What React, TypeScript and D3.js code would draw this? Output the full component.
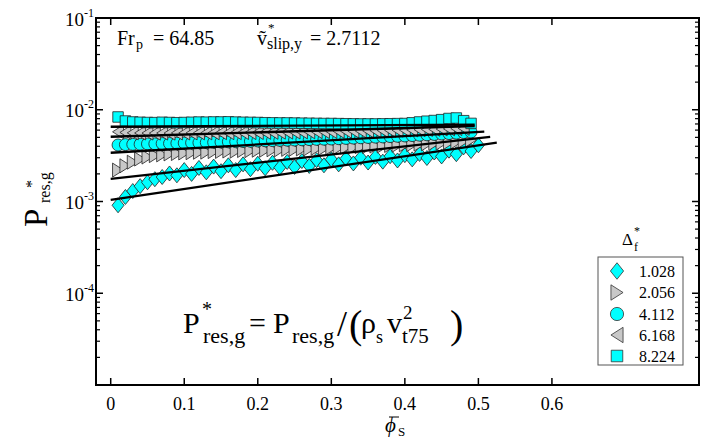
import React from "react";
import * as d3 from "d3";

const phi = [0.01,0.02,0.03,0.04,0.05,0.06,0.07,0.08,0.09,0.10,0.11,0.12,0.13,0.14,0.15,0.16,0.17,0.18,0.19,0.20,0.21,0.22,0.23,0.24,0.25,0.26,0.27,0.28,0.29,0.30,0.31,0.32,0.33,0.34,0.35,0.36,0.37,0.38,0.39,0.40,0.41,0.42,0.43,0.44,0.45,0.46,0.47,0.48,0.49,0.50];

// values in units of 1e-3
const s1028 = [0.91,1.12,1.30,1.47,1.62,1.75,1.85,2.02,1.93,2.20,2.00,2.32,2.08,2.40,2.14,2.48,2.20,2.54,2.25,2.58,2.30,2.64,2.34,2.70,2.38,2.76,2.44,2.82,2.48,2.88,2.54,2.94,2.60,3.00,2.66,3.06,2.72,3.12,2.80,3.20,2.88,3.30,2.98,3.42,3.10,3.58,3.28,3.90,3.55,4.10];
const s2056 = [2.20,2.45,2.68,2.90,3.05,3.16,3.22,3.30,3.33,3.38,3.40,3.44,3.45,3.50,3.51,3.55,3.54,3.59,3.58,3.62,3.62,3.66,3.65,3.70,3.70,3.74,3.75,3.80,3.80,3.85,3.86,3.91,3.91,3.96,3.97,4.02,4.03,4.08,4.10,4.15,4.17,4.22,4.25,4.30,4.34,4.40,4.46,4.55,4.68];
const s4112 = [4.13,4.17,4.20,4.21,4.24,4.25,4.28,4.29,4.32,4.34,4.36,4.37,4.40,4.42,4.45,4.47,4.49,4.51,4.54,4.57,4.59,4.61,4.64,4.66,4.68,4.71,4.73,4.76,4.78,4.80,4.84,4.87,4.91,4.95,4.99,5.03,5.06,5.10,5.14,5.18,5.23,5.28,5.33,5.38,5.44,5.50,5.56,5.64,5.72];
const s6168 = [5.75,5.66,5.60,5.58,5.57,5.56,5.57,5.56,5.58,5.58,5.59,5.60,5.60,5.61,5.62,5.62,5.63,5.64,5.64,5.65,5.67,5.68,5.70,5.71,5.72,5.74,5.75,5.77,5.78,5.80,5.82,5.84,5.86,5.88,5.90,5.92,5.94,5.96,5.99,6.01,6.04,6.07,6.10,6.13,6.17,6.20,6.24,6.28];
const s8224 = [8.34,7.54,7.36,7.30,7.26,7.24,7.30,7.26,7.22,7.26,7.30,7.34,7.32,7.36,7.36,7.38,7.34,7.30,7.28,7.26,7.22,7.20,7.18,7.18,7.16,7.14,7.12,7.10,7.08,7.08,7.06,7.04,7.02,7.00,7.00,7.00,7.02,7.04,7.06,7.08,7.20,7.36,7.50,7.63,7.80,8.03,8.13,7.60,7.10];

const seriesLabels = ["1.028", "2.056", "4.112", "6.168", "8.224"];

// fitted lines (start/end phi and value)
const fitStartPhi = [0, 0, 0, 0, 0];
const fitEndPhi = [0.525, 0.516, 0.508, 0.495, 0.495];
const fitStartVal = [1.04e-3, 1.76e-3, 3.40e-3, 5.08e-3, 6.53e-3];
const fitEndVal = [4.37e-3, 5.05e-3, 5.77e-3, 6.65e-3, 6.9e-3];

const xTickVals = [0, 0.1, 0.2, 0.3, 0.4, 0.5, 0.6];
const yMajorExp = [-5, -4, -3, -2, -1];
const yLabelExp = [-1, -2, -3, -4];

const CYAN = "#00FFFF";
const GRAY = "#C8C8C8";

const L = 96, R = 699, T = 18, B = 385;

const x = d3.scaleLinear().domain([-0.02, 0.8]).range([L, R]);
const y = d3.scaleLog().domain([1e-5, 1e-1]).range([B, T]);

type Shape = "diamond" | "triRight" | "circle" | "triLeft" | "square";
const shapes: Shape[] = ["diamond", "triRight", "circle", "triLeft", "square"];
const fills = [CYAN, GRAY, CYAN, GRAY, CYAN];
const allSeries = [s1028, s2056, s4112, s6168, s8224];

function markerPath(shape: Shape, cx: number, cy: number, k = 1): string {
  if (shape === "diamond") {
    const w = 6 * k, h = 7.5 * k;
    return `M${cx},${cy - h}L${cx + w},${cy}L${cx},${cy + h}L${cx - w},${cy}Z`;
  }
  if (shape === "triRight") {
    const w = 11 * k, h = 14 * k;
    return `M${cx - w / 2},${cy - h / 2}L${cx + w / 2},${cy}L${cx - w / 2},${cy + h / 2}Z`;
  }
  if (shape === "triLeft") {
    const w = 11 * k, h = 14 * k;
    return `M${cx + w / 2},${cy - h / 2}L${cx - w / 2},${cy}L${cx + w / 2},${cy + h / 2}Z`;
  }
  if (shape === "square") {
    const s = 10.5 * k;
    return `M${cx - s / 2},${cy - s / 2}h${s}v${s}h${-s}Z`;
  }
  const r = 6 * k;
  return `M${cx - r},${cy}a${r},${r} 0 1,0 ${2 * r},0a${r},${r} 0 1,0 ${-2 * r},0Z`;
}

function T2(props: any) {
  const { children, style, ...rest } = props;
  return <text {...rest} style={{ fontFamily: "Liberation Serif", ...(style || {}) }}>{children}</text>;
}

export default function App() {
  const minorTicks: number[] = [];
  for (let e = -5; e < -1; e++) for (let k = 2; k <= 9; k++) minorTicks.push(k * Math.pow(10, e));
  const lineGen = d3.line<[number, number]>().x(d => x(d[0])).y(d => y(d[1]));

  const legendY = [271, 292.5, 314, 335, 356];

  return (
    <svg width={716} height={447} style={{ position: "absolute", left: 0, top: 0, background: "#fff" }}>
      <rect x={0} y={0} width={716} height={447} fill="#fff" />
      {allSeries.map((vals, si) => (
        <g key={si} fill={fills[si]} stroke="#222" strokeWidth={0.8}>
          {vals.map((v, i) => (
            <path key={i} d={markerPath(shapes[si], x(phi[i]), y(v * 1e-3))} />
          ))}
        </g>
      ))}
      {fitStartPhi.map((p0, i) => (
        <path key={i} d={lineGen([[p0, fitStartVal[i]], [fitEndPhi[i], fitEndVal[i]]]) || ""} stroke="#000" strokeWidth={2.3} fill="none" />
      ))}
      <rect x={L} y={T} width={R - L} height={B - T} fill="none" stroke="#000" strokeWidth={2} />
      {yMajorExp.map(e => {
        const yy = y(Math.pow(10, e));
        return (
          <g key={e} stroke="#000" strokeWidth={1.5}>
            <line x1={L} x2={L + 7} y1={yy} y2={yy} />
            <line x1={R} x2={R - 7} y1={yy} y2={yy} />
          </g>
        );
      })}
      {minorTicks.map((v, i) => {
        const yy = y(v);
        return (
          <g key={i} stroke="#000" strokeWidth={1.2}>
            <line x1={L} x2={L + 4} y1={yy} y2={yy} />
            <line x1={R} x2={R - 4} y1={yy} y2={yy} />
          </g>
        );
      })}
      {xTickVals.map(v => (
        <g key={v} stroke="#000" strokeWidth={1.5}>
          <line x1={x(v)} x2={x(v)} y1={B} y2={B - 7} />
          <line x1={x(v)} x2={x(v)} y1={T} y2={T + 7} />
        </g>
      ))}
      {xTickVals.map(v => (
        <T2 key={v} x={x(v)} y={410} fontSize={18} textAnchor="middle">{String(v)}</T2>
      ))}
      {yLabelExp.map(e => (
        <T2 key={e} x={94} y={y(Math.pow(10, e)) + 7.5} fontSize={19} textAnchor="end">
          10<tspan dy={-9} fontSize={12}>{"-" + Math.abs(e)}</tspan>
        </T2>
      ))}
      {/* y axis title */}
      <g transform="translate(47,227) rotate(-90)">
        <T2 x={0} y={0} fontSize={33}>P</T2>
        <T2 x={39} y={-10} fontSize={16}>*</T2>
        <T2 x={24} y={3} fontSize={16}>res,g</T2>
      </g>
      {/* x axis title */}
      <T2 x={385} y={432} fontSize={21} fontStyle="italic">ϕ</T2>
      <line x1={389} x2={399} y1={417} y2={417} stroke="#000" strokeWidth={1} />
      <T2 x={398} y={436} fontSize={13}>S</T2>
      {/* annotations */}
      <T2 x={117} y={45} fontSize={20}>Fr</T2>
      <T2 x={136} y={49} fontSize={14}>p</T2>
      <T2 x={153} y={45} fontSize={20}>= 64.85</T2>
      <T2 x={257} y={45} fontSize={20}>ṽ</T2>
      <T2 x={268} y={32} fontSize={13}>*</T2>
      <T2 x={267} y={49} fontSize={16}>slip,y</T2>
      <T2 x={310} y={45} fontSize={20}>= 2.7112</T2>
      {/* formula */}
      <T2 x={183} y={333} fontSize={30}>P</T2>
      <T2 x={202} y={316} fontSize={20}>*</T2>
      <T2 x={203} y={343} fontSize={22}>res,g</T2>
      <T2 x={249} y={333} fontSize={30}>=</T2>
      <T2 x={273} y={333} fontSize={30}>P</T2>
      <T2 x={292} y={343} fontSize={22}>res,g</T2>
      <T2 x={337} y={336} fontSize={36}>/</T2>
      <T2 x={349} y={338} fontSize={40}>(</T2>
      <T2 x={361} y={333} fontSize={30}>ρ</T2>
      <T2 x={376} y={343} fontSize={18}>s</T2>
      <T2 x={387} y={333} fontSize={30}>v</T2>
      <T2 x={403} y={319} fontSize={19}>2</T2>
      <T2 x={402} y={343} fontSize={21}>t75</T2>
      <T2 x={450} y={338} fontSize={40}>)</T2>
      {/* legend */}
      <T2 x={622} y={245} fontSize={17}>Δ</T2>
      <T2 x={634} y={235} fontSize={12}>*</T2>
      <T2 x={634} y={251} fontSize={12}>f</T2>
      <rect x={598} y={257} width={85} height={108} fill="#fff" stroke="#555" strokeWidth={1} />
      {seriesLabels.map((lab, i) => (
        <g key={lab}>
          <path d={markerPath(shapes[i], 617, legendY[i], 1.1)} fill={fills[i]} stroke="#333" strokeWidth={0.8} />
          <T2 x={639} y={legendY[i] + 5.5} fontSize={16}>{lab}</T2>
        </g>
      ))}
    </svg>
  );
}
